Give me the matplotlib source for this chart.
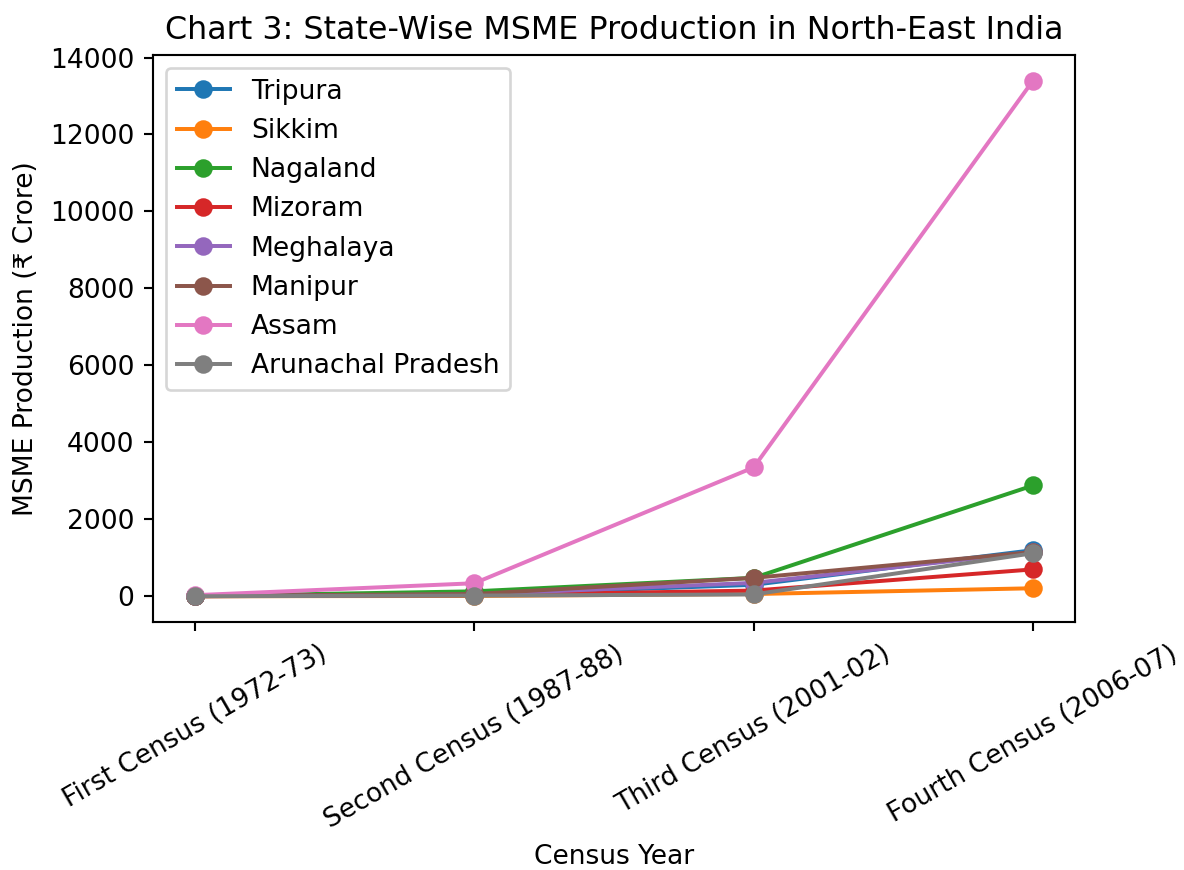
import matplotlib
matplotlib.use('Agg')
import matplotlib.pyplot as plt

census = ['First Census (1972-73)', 'Second Census (1987-88)',
          'Third Census (2001-02)', 'Fourth Census (2006-07)']

tripura = [5, 40, 300, 1200]
sikkim = [2, 10, 60, 210]
nagaland = [8, 130, 480, 2880]
mizoram = [3, 30, 150, 700]
meghalaya = [6, 50, 350, 1150]
manipur = [10, 60, 480, 1150]
assam = [30, 340, 3350, 13400]
arunachal = [2, 20, 50, 1120]

series = [('Tripura', tripura), ('Sikkim', sikkim), ('Nagaland', nagaland),
          ('Mizoram', mizoram), ('Meghalaya', meghalaya), ('Manipur', manipur),
          ('Assam', assam), ('Arunachal Pradesh', arunachal)]

dpi = 190.5
fig = plt.figure(figsize=(1184 / dpi, 870 / dpi), dpi=dpi)
ax = fig.add_axes([0.1292, 0.285, 0.7787, 0.652])

for name, vals in series:
    ax.plot(census, vals, marker='o', label=name)

ax.set_title('Chart 3: State-Wise MSME Production in North-East India')
ax.set_xlabel('Census Year')
ax.set_ylabel('MSME Production (₹ Crore)')
ax.legend(loc='upper left')
plt.setp(ax.get_xticklabels(), rotation=30)

fig.savefig('out.png', dpi=dpi)
